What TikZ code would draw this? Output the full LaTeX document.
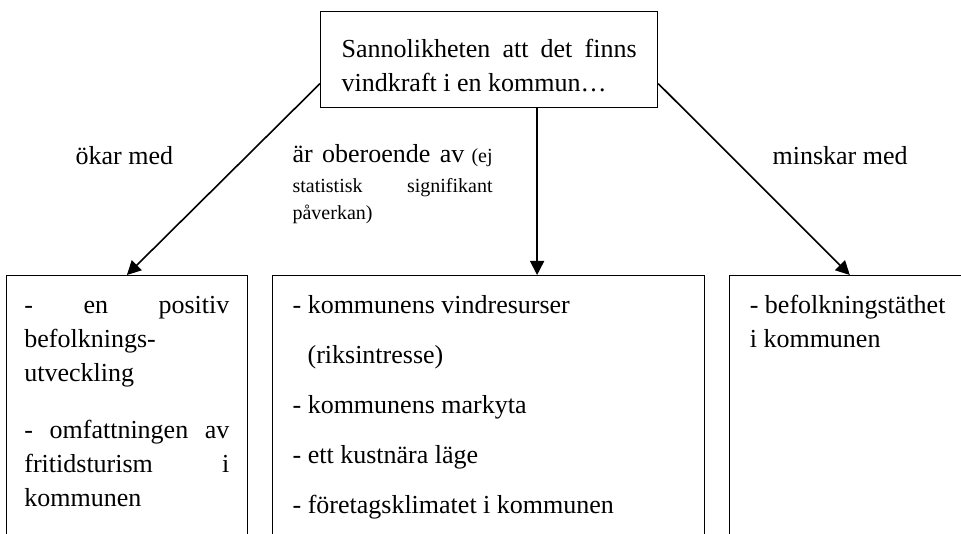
\documentclass[tikz,border=0pt]{standalone}
\usepackage{fontspec}
\setmainfont{Liberation Serif}
\usetikzlibrary{arrows.meta,positioning}

\newcommand\notesize{\fontsize{20}{27}\selectfont}
\newcommand\fullline[1]{\makebox[\hsize][s]{#1}}

\begin{document}
\begin{tikzpicture}[
  x=1pt, y=-1pt,
  font=\fontsize{26}{34}\selectfont,
  >={Triangle[length=14pt,width=14pt]},
  line width=1.2pt,
  every node/.style={inner sep=0pt},
  % --- Reusable styles -------------------------------------------------------
  headbox/.style={               % question box on top
    rectangle, draw, text width=295pt, inner xsep=21pt, align=flush left,
    text height=46pt, text depth=50pt,
  },
  itembox/.style={               % open box, runs past the lower edge
    rectangle, draw, inner xsep=20pt, align=flush left,
    text height=38pt, text depth=300pt,
  },
  link/.style={->, line width=1.6pt},
  lbl/.style={align=flush left},
]
\clip (0,0) rectangle (961,534);

% --- Nodes -------------------------------------------------------------------
\node[headbox, anchor=north west] (a) at (320,11)
  {\fullline{Sannolikheten att det finns}\\
   vindkraft i en kommun…};

\node[itembox, text width=392pt, anchor=north west] (c) at (272,275)
  {- kommunens vindresurser\\[16pt]
   \hspace*{15pt}(riksintresse)\\[16pt]
   - kommunens markyta\\[16pt]
   - ett kustnära läge\\[16pt]
   - företagsklimatet i kommunen};
\node[itembox, text width=205pt, inner xsep=18pt, left=24pt of c] (b)
  {\fullline{- en positiv}\\
   befolknings-\\
   utveckling\\[23pt]
   \fullline{- omfattningen av}\\
   \fullline{fritidsturism i}\\
   kommunen};
\node[itembox, text width=200pt, right=24pt of c] (d)
  {- befolkningstäthet\\
   i kommunen};

% --- Labels ------------------------------------------------------------------
\node[lbl, anchor=base west] (up) at (75,165) {ökar med};
\node[lbl, anchor=base west, text width=200pt, font=\notesize] (same) at (292,163)
  {\fullline{{\fontsize{26}{34}\selectfont är oberoende av} (ej}\\[3pt]
   \fullline{statistisk signifikant}\\
   påverkan)};
\node[lbl, anchor=base west] (down) at (772,165) {minskar med};

% --- Arrows ------------------------------------------------------------------
\draw[link] ([yshift=-24pt]a.west) -- (b.north);
\draw[link] ([xshift=48pt]a.south) -- ([xshift=48pt]a.south |- c.north);
\draw[link] ([yshift=-24pt]a.east) -- (d.north);

\end{tikzpicture}
\end{document}
